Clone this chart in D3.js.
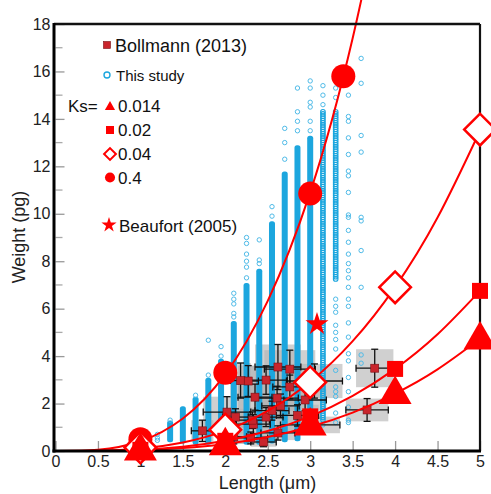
<!DOCTYPE html>
<html>
<head>
<meta charset="utf-8">
<title>Weight vs length</title>
<script src="https://cdn.jsdelivr.net/npm/d3@7"></script>
<style>
  body { margin: 0; background: #fff; }
  svg { font-family: "Liberation Sans", Arial, Helvetica, sans-serif; }
</style>
</head>
<body>
<svg id="chart" width="491" height="494"></svg>
<script>
// ---- data ----
var xTicks = [0, 0.5, 1, 1.5, 2, 2.5, 3, 3.5, 4, 4.5, 5];
var yTicks = [0, 2, 4, 6, 8, 10, 12, 14, 16, 18];
var yMinor = [1, 3, 5, 7, 9, 11, 13, 15, 17];

// "This study": dense columns (length, low weight, high weight)
var solidRuns = [
  [1.35, 0.45, 1.2], [1.5, 0.4, 1.8], [1.65, 0.35, 2.2], [1.8, 0.35, 3.0],
  [1.95, 0.35, 3.8], [2.1, 0.35, 5.4], [2.25, 0.35, 7.0], [2.4, 0.35, 7.6],
  [2.55, 0.4, 9.6], [2.7, 0.45, 11.7], [2.85, 0.5, 12.8], [3.0, 1.0, 13.2]
];
var dottedRuns = [[3.15, 1.3, 14.3], [3.3, 7.2, 14.3]];
// "This study": scattered single values per column
var sparseL = [1.2, 1.35, 1.65, 1.8, 1.95, 2.1, 2.25, 2.4, 2.55, 2.7, 2.85, 3.0, 3.15, 3.3, 3.45, 3.6];
var sparseW = [
  [0.45, 0.55, 0.7],
  [1.3],
  [2.35],
  [3.2, 4.67],
  [4.0, 4.4],
  [5.65, 5.8, 6.2, 6.4, 6.65],
  [7.3, 7.75, 8.0, 8.3, 8.75, 9.0],
  [7.9, 8.05, 8.9],
  [9.9, 10.3],
  [12.3, 13.0, 13.6],
  [13.5, 13.9, 14.3, 15.3],
  [13.5, 13.9, 14.5, 14.7, 15.3, 15.6],
  [1.1, 14.6, 15.0, 15.4],
  [1.2, 1.6, 2.3, 2.5, 2.7, 3.4, 4.3, 4.7, 5.0, 5.3, 5.85, 6.1, 6.4, 14.9, 15.3],
  [1.2, 1.3, 1.85, 2.5, 3.1, 3.8, 4.1, 4.8, 5.4, 6.1, 6.4, 6.9, 7.3, 7.6, 7.9, 8.3, 8.8,
   9.3, 9.85, 9.95, 10.9, 11.6, 11.8, 12.5, 13.2, 13.9, 14.1, 15.0],
  [3.7, 4.05, 6.9, 8.45, 9.7, 9.85, 12.6, 13.3, 15.5, 16.55]
];

// Bollmann (2013): length, weight, error in length, error in weight
var bolL  = [3.76, 3.67, 2.62, 2.76, 2.48, 2.35, 2.61, 2.48, 2.65, 2.33, 2.76, 2.94, 2.45,
             2.62, 3.05, 2.02, 2.12, 2.32, 1.73, 2.18, 2.27, 3.0, 2.3, 2.1, 2.85, 2.55];
var bolW  = [3.49, 1.73, 3.54, 3.45, 2.99, 2.27, 2.23, 1.43, 1.9, 1.13, 2.7, 2.15, 0.38,
             0.76, 2.95, 1.64, 1.43, 1.3, 0.85, 2.97, 2.95, 1.1, 0.55, 0.6, 1.5, 1.7];
var bolEL = [0.22, 0.25, 0.27, 0.3, 0.25, 0.2, 0.25, 0.2, 0.22, 0.2, 0.2, 0.25, 0.15,
             0.2, 0.33, 0.28, 0.15, 0.2, 0.13, 0.12, 0.12, 0.35, 0.2, 0.15, 0.25, 0.2];
var bolEW = [0.8, 0.48, 0.95, 0.8, 0.6, 0.55, 0.5, 0.4, 0.5, 0.4, 0.5, 0.45, 0.2,
             0.3, 0.72, 0.65, 0.35, 0.35, 0.45, 0.74, 0.65, 0.35, 0.25, 0.3, 0.45, 0.4];

// Ks curves (weight)
var curveL    = [0, 0.5, 1, 1.5, 2, 2.5, 3, 3.5, 4, 4.5, 5];
var curveK014 = [0, 0.005, 0.04, 0.13, 0.30, 0.59, 1.02, 1.62, 2.42, 3.44, 4.73];
var curveK02  = [0, 0.007, 0.05, 0.18, 0.43, 0.84, 1.46, 2.32, 3.46, 4.92, 6.75];
var curveK04  = [0, 0.014, 0.11, 0.36, 0.86, 1.69, 2.92, 4.63, 6.91, 9.84, 13.5];
var curveK4L  = [0, 0.5, 1, 1.5, 2, 2.5, 3, 3.5, 4];
var curveK4   = [0, 0.05, 0.41, 1.37, 3.24, 6.33, 10.9, 17.4, 25.9];

// Ks markers
var markL   = [1, 2, 3, 4, 5];
var triW    = [0.0, 0.22, 1.05, 2.38, 4.68];
var sqW     = [0.05, 0.43, 1.46, 3.46, 6.75];
var diaW    = [0.15, 0.9, 2.9, 6.9, 13.55];
var circL   = [1, 2, 3, 3.39];
var circW   = [0.5, 3.3, 10.85, 15.8];
var beaufort = [3.08, 5.35];

var ksLabels = ["0.014", "0.02", "0.04", "0.4"];

// ---- drawing ----
var svg = d3.select("#chart");
var x = d3.scaleLinear().domain([0, 5]).range([55.5, 480]);
var y = d3.scaleLinear().domain([0, 18]).range([451, 24]);

var red = "#ff0000", blue = "#1ca6de", blueLight = "#4fbbe8", bolRed = "#c9252c";

// ticks (inside, gray)
var xAxis = d3.axisBottom(x).tickValues(xTicks).tickSizeInner(-10).tickSizeOuter(0).tickPadding(5)
  .tickFormat(function(d) { return d; });
var gx = svg.append("g").attr("transform", "translate(0," + y(0) + ")").call(xAxis);
gx.select(".domain").remove();
gx.selectAll("line").attr("stroke", "#999").attr("stroke-width", 1.3);
gx.selectAll("text").attr("font-size", "16px").attr("fill", "#222").attr("font-family", null);

var yAxis = d3.axisLeft(y).tickValues(yTicks).tickSizeInner(-9).tickSizeOuter(0).tickPadding(5);
var gy = svg.append("g").attr("transform", "translate(" + x(0) + ",0)").call(yAxis);
gy.select(".domain").remove();
gy.selectAll("line").attr("stroke", "#999").attr("stroke-width", 1.3);
gy.selectAll("text").attr("font-size", "16px").attr("fill", "#222").attr("font-family", null);

svg.append("g").selectAll("line").data(yMinor).join("line")
  .attr("x1", x(0)).attr("x2", x(0) + 7)
  .attr("y1", function(d) { return y(d); }).attr("y2", function(d) { return y(d); })
  .attr("stroke", "#aaa").attr("stroke-width", 1.3);

// gray uncertainty boxes
var bol = bolL.map(function(l, i) { return { L: l, W: bolW[i], eL: bolEL[i], eW: bolEW[i] }; });
svg.append("g").selectAll("rect").data(bol).join("rect")
  .attr("x", function(d) { return x(d.L - d.eL); })
  .attr("y", function(d) { return y(d.W + d.eW); })
  .attr("width", function(d) { return x(d.L + d.eL) - x(d.L - d.eL); })
  .attr("height", function(d) { return y(d.W - d.eW) - y(d.W + d.eW); })
  .attr("fill", "#b3b3b3").attr("opacity", 0.62);

// this study
var gs = svg.append("g");
gs.selectAll("rect").data(solidRuns).join("rect")
  .attr("x", function(d) { return x(d[0]) - 3; })
  .attr("y", function(d) { return y(d[2]) - 2; })
  .attr("width", 6)
  .attr("height", function(d) { return y(d[1]) - y(d[2]) + 4; })
  .attr("rx", 2.5)
  .attr("fill", blue);

dottedRuns.forEach(function(r) {
  var top = y(r[2]), bot = y(r[1]);
  var ys = d3.range(top, bot, 2.2);
  gs.append("g").selectAll("circle").data(ys).join("circle")
    .attr("cx", x(r[0])).attr("cy", function(d) { return d; }).attr("r", 2.3)
    .attr("fill", "none").attr("stroke", blue).attr("stroke-width", 1.1);
});

var sparse = [];
sparseL.forEach(function(l, i) { sparseW[i].forEach(function(w) { sparse.push([l, w]); }); });
gs.append("g").selectAll("circle").data(sparse).join("circle")
  .attr("cx", function(d) { return x(d[0]); })
  .attr("cy", function(d) { return y(d[1]); })
  .attr("r", 2.2)
  .attr("fill", "none").attr("stroke", blueLight).attr("stroke-width", 1);

// error bars
var ge = svg.append("g").attr("stroke", "#111").attr("stroke-width", 1.3);
bol.forEach(function(d) {
  ge.append("line").attr("x1", x(d.L - d.eL)).attr("x2", x(d.L + d.eL)).attr("y1", y(d.W)).attr("y2", y(d.W));
  ge.append("line").attr("x1", x(d.L)).attr("x2", x(d.L)).attr("y1", y(d.W - d.eW)).attr("y2", y(d.W + d.eW));
  [d.L - d.eL, d.L + d.eL].forEach(function(v) {
    ge.append("line").attr("x1", x(v)).attr("x2", x(v)).attr("y1", y(d.W) - 3.5).attr("y2", y(d.W) + 3.5);
  });
  [d.W - d.eW, d.W + d.eW].forEach(function(v) {
    ge.append("line").attr("x1", x(d.L) - 3.5).attr("x2", x(d.L) + 3.5).attr("y1", y(v)).attr("y2", y(v));
  });
});
svg.append("g").selectAll("rect").data(bol).join("rect")
  .attr("x", function(d) { return x(d.L) - 4; })
  .attr("y", function(d) { return y(d.W) - 4; })
  .attr("width", 8).attr("height", 8)
  .attr("fill", bolRed).attr("stroke", "#7a1015").attr("stroke-width", 0.6);

// Ks curves
var line = d3.line().x(function(d) { return x(d[0]); }).y(function(d) { return y(d[1]); }).curve(d3.curveNatural);
function pairs(ls, ws) { return ls.map(function(l, i) { return [l, ws[i]]; }); }
var gc = svg.append("g").attr("fill", "none").attr("stroke", red).attr("stroke-width", 2);
[pairs(curveL, curveK014), pairs(curveL, curveK02), pairs(curveL, curveK04), pairs(curveK4L, curveK4)]
  .forEach(function(p) { gc.append("path").attr("d", line(p)); });

// frame
svg.append("line").attr("x1", x(0) - 1.5).attr("x2", x(5)).attr("y1", y(18)).attr("y2", y(18))
  .attr("stroke", "#111").attr("stroke-width", 2.5);
svg.append("line").attr("x1", x(5)).attr("x2", x(5)).attr("y1", y(18)).attr("y2", y(0))
  .attr("stroke", "#111").attr("stroke-width", 2.2);
svg.append("line").attr("x1", x(0) - 1.5).attr("x2", x(0) - 1.5).attr("y1", y(18) - 1).attr("y2", y(0) + 1.5)
  .attr("stroke", "#000").attr("stroke-width", 3);
svg.append("line").attr("x1", x(0) - 3).attr("x2", x(5) + 1).attr("y1", y(0)).attr("y2", y(0))
  .attr("stroke", "#000").attr("stroke-width", 3);

// Ks markers
var gm = svg.append("g");
gm.selectAll(".circ").data(pairs(circL, circW)).join("circle").attr("class", "circ")
  .attr("cx", function(d) { return x(d[0]); }).attr("cy", function(d) { return y(d[1]); })
  .attr("r", 12).attr("fill", red);
gm.selectAll(".dia").data(pairs(markL, diaW)).join("path").attr("class", "dia")
  .attr("d", d3.symbol(d3.symbolSquare, 500)())
  .attr("transform", function(d) { return "translate(" + x(d[0]) + "," + y(d[1]) + ") rotate(45)"; })
  .attr("fill", "#fff").attr("stroke", red).attr("stroke-width", 2.5);
gm.selectAll(".sq").data(pairs(markL, sqW)).join("path").attr("class", "sq")
  .attr("d", d3.symbol(d3.symbolSquare, 256)())
  .attr("transform", function(d) { return "translate(" + x(d[0]) + "," + y(d[1]) + ")"; })
  .attr("fill", red);
gm.selectAll(".tri").data(pairs(markL, triW)).join("path").attr("class", "tri")
  .attr("d", d3.symbol(d3.symbolTriangle, 470)())
  .attr("transform", function(d) { return "translate(" + x(d[0]) + "," + y(d[1]) + ")"; })
  .attr("fill", red);
gm.append("path")
  .attr("d", d3.symbol(d3.symbolStar, 165)())
  .attr("transform", "translate(" + x(beaufort[0]) + "," + y(beaufort[1]) + ")")
  .attr("fill", red);

// axis titles
svg.append("text").attr("x", 267.5).attr("y", 489).attr("text-anchor", "middle")
  .attr("font-size", "18px").attr("fill", "#222").text("Length (μm)");
svg.append("text").attr("transform", "translate(25,237) rotate(-90)").attr("text-anchor", "middle")
  .attr("font-size", "18px").attr("fill", "#222").text("Weight (pg)");

// legend
var lg = svg.append("g").attr("fill", "#111");
lg.append("rect").attr("x", 103.5).attr("y", 41.5).attr("width", 7).attr("height", 7)
  .attr("fill", bolRed).attr("stroke", "#7a1015").attr("stroke-width", 0.6);
lg.append("text").attr("x", 115).attr("y", 51.5).attr("font-size", "18px").text("Bollmann (2013)");
lg.append("circle").attr("cx", 107).attr("cy", 75).attr("r", 3)
  .attr("fill", "none").attr("stroke", blue).attr("stroke-width", 1.4);
lg.append("text").attr("x", 116).attr("y", 81).attr("font-size", "15px").text("This study");
lg.append("text").attr("x", 68).attr("y", 112).attr("font-size", "17px").text("Ks=");

var legY = [112, 136, 160, 184];
var legSym = [
  { d: d3.symbol(d3.symbolTriangle, 45)(), rot: 0, fill: red, stroke: "none", dy: -5 },
  { d: d3.symbol(d3.symbolSquare, 64)(), rot: 0, fill: red, stroke: "none", dy: -6 },
  { d: d3.symbol(d3.symbolSquare, 70)(), rot: 45, fill: "#fff", stroke: red, dy: -6 },
  { d: d3.symbol(d3.symbolCircle, 80)(), rot: 0, fill: red, stroke: "none", dy: -6.5 }
];
ksLabels.forEach(function(t, i) {
  var s = legSym[i];
  lg.append("path").attr("d", s.d)
    .attr("transform", "translate(110," + (legY[i] + s.dy) + ") rotate(" + s.rot + ")")
    .attr("fill", s.fill).attr("stroke", s.stroke).attr("stroke-width", 2);
  lg.append("text").attr("x", 118).attr("y", legY[i]).attr("font-size", "17px").text(t);
});
lg.append("path").attr("d", d3.symbol(d3.symbolStar, 72)())
  .attr("transform", "translate(109,225)").attr("fill", red);
lg.append("text").attr("x", 119).attr("y", 232).attr("font-size", "17px").text("Beaufort (2005)");
</script>
</body>
</html>
